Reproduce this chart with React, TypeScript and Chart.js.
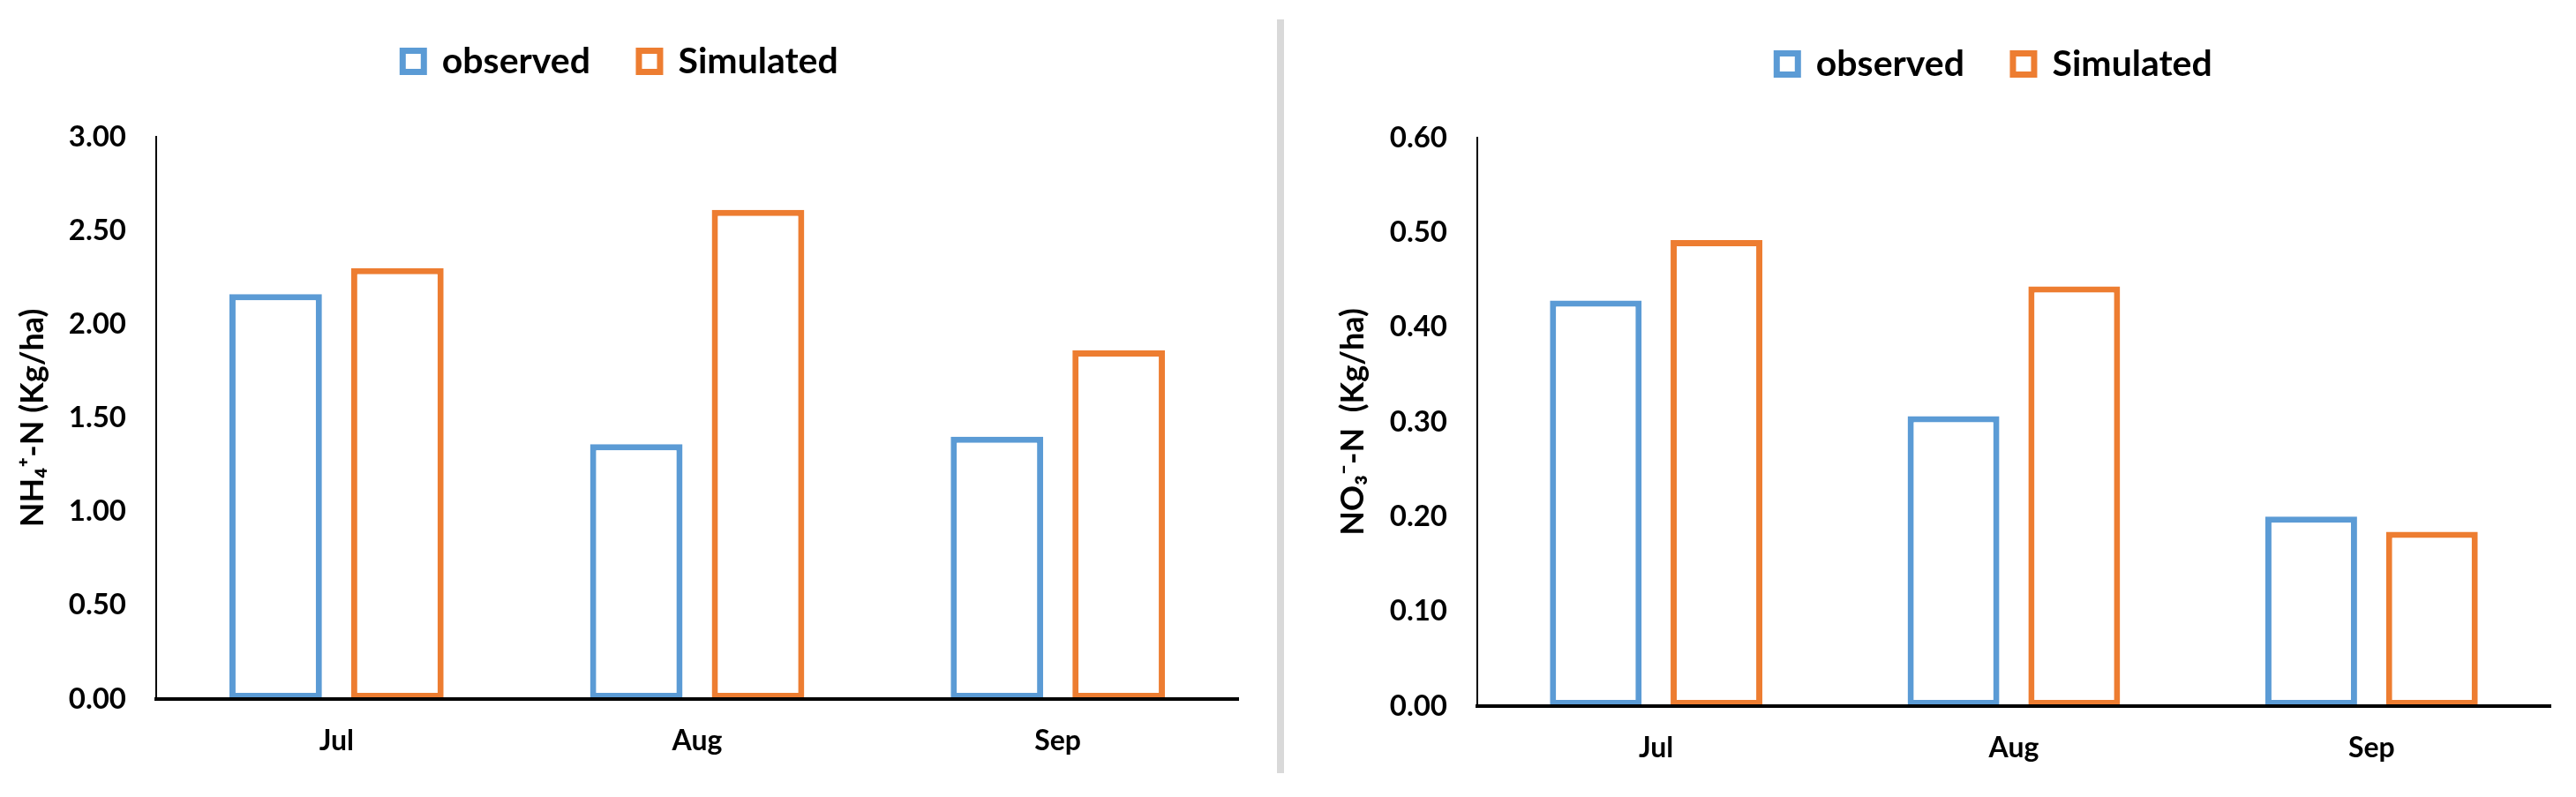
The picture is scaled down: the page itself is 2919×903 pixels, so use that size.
import React, { useEffect, useRef } from 'react';
import { Chart, registerables } from 'chart.js';

Chart.register(...registerables);

// ---- data ----
const categories = ['Jul', 'Aug', 'Sep'];
const seriesLabels = ['observed', 'Simulated'];
const seriesColors = ['#5B9BD5', '#ED7D31'];

const nh4Observed = [2.16, 1.36, 1.4];
const nh4Simulated = [2.3, 2.61, 1.86];
const nh4Max = 3;
const nh4Step = 0.5;
const nh4Title = 'NH₄⁺-N (Kg/ha)';

const no3Observed = [0.428, 0.306, 0.2];
const no3Simulated = [0.492, 0.443, 0.184];
const no3Max = 0.6;
const no3Step = 0.1;
const no3Title = 'NO₃⁻-N  (Kg/ha)';

// ---- styling ----
const FONT = 'Lato, "Open Sans", sans-serif';
const LEGEND_FONT_SIZE = 41;
const LEGEND_PAD = 55;
const CANVAS_H = 903;

const legendPlacer = {
  id: 'legendPlacer',
  afterLayout(chart: any, _args: any, opts: any) {
    const l = chart.legend;
    if (!l || !opts || opts.cx == null) return;
    const w = l.right - l.left;
    const h = l.bottom - l.top;
    l.left = opts.cx - w / 2;
    l.right = l.left + w;
    l.top = opts.cy - LEGEND_PAD - LEGEND_FONT_SIZE / 2;
    l.bottom = l.top + h;
  },
};

type PanelProps = {
  left: number;
  width: number;
  observed: number[];
  simulated: number[];
  yMax: number;
  yStep: number;
  title: string;
  pad: { left: number; right: number; top: number; bottom: number };
  yAxisWidth: number;
  legendCx: number;
  legendCy: number;
};

function Panel(p: PanelProps) {
  const ref = useRef<HTMLCanvasElement>(null);
  useEffect(() => {
    const chart = new Chart(ref.current as HTMLCanvasElement, {
      type: 'bar',
      data: {
        labels: categories,
        datasets: [
          {
            label: seriesLabels[0],
            data: p.observed,
            backgroundColor: '#FFFFFF',
            borderColor: seriesColors[0],
            borderWidth: 7,
            borderSkipped: false,
          },
          {
            label: seriesLabels[1],
            data: p.simulated,
            backgroundColor: '#FFFFFF',
            borderColor: seriesColors[1],
            borderWidth: 7,
            borderSkipped: false,
          },
        ],
      },
      options: {
        responsive: false,
        animation: false,
        layout: { padding: p.pad },
        datasets: { bar: { categoryPercentage: 0.675, barPercentage: 0.76 } },
        plugins: {
          legend: {
            position: 'top',
            labels: {
              boxWidth: 24,
              boxHeight: 24,
              padding: LEGEND_PAD,
              color: '#000',
              font: { family: FONT, size: LEGEND_FONT_SIZE, weight: 'bold' },
            },
          },
          tooltip: { enabled: false },
          legendPlacer: { cx: p.legendCx, cy: p.legendCy },
        } as any,
        scales: {
          x: {
            grid: { display: false, drawTicks: false },
            border: { display: true, color: '#000', width: 4, z: 1 } as any,
            ticks: {
              color: '#000',
              padding: 28,
              font: { family: FONT, size: 32, weight: 'bold' },
            },
            afterFit: (s: any) => {
              s.height = 70;
            },
          },
          y: {
            min: 0,
            max: p.yMax,
            grid: { display: false, drawTicks: false },
            border: { display: true, color: '#000', width: 2 },
            ticks: {
              stepSize: p.yStep,
              color: '#000',
              padding: 34,
              font: { family: FONT, size: 33, weight: 'bold' },
              callback: (v: any) => Number(v).toFixed(2),
            },
            title: {
              display: true,
              text: p.title,
              color: '#000',
              padding: 0,
              font: { family: FONT, size: 36, weight: 'bold' },
            },
            afterFit: (s: any) => {
              s.width = p.yAxisWidth;
            },
          },
        },
      },
      plugins: [legendPlacer as any],
    });
    return () => chart.destroy();
  }, []);
  return (
    <canvas
      ref={ref}
      width={p.width}
      height={CANVAS_H}
      style={{ position: 'absolute', left: p.left, top: 0, width: p.width, height: CANVAS_H }}
    />
  );
}

export default function App() {
  const legendH = LEGEND_FONT_SIZE + LEGEND_PAD + 10;
  return (
    <div
      style={{
        position: 'fixed',
        left: 0,
        top: 0,
        width: 2919,
        height: 903,
        background: '#FFFFFF',
        overflow: 'hidden',
      }}
    >
      <Panel
        left={0}
        width={1440}
        observed={nh4Observed}
        simulated={nh4Simulated}
        yMax={nh4Max}
        yStep={nh4Step}
        title={nh4Title}
        pad={{ left: 16, right: 37, top: 155 - legendH, bottom: CANVAS_H - 792 - 70 }}
        yAxisWidth={161}
        legendCx={703}
        legendCy={69.5}
      />
      <div
        style={{
          position: 'absolute',
          left: 1447,
          top: 22,
          width: 8,
          height: 854,
          background: '#D9D9D9',
        }}
      />
      <Panel
        left={1460}
        width={1459}
        observed={no3Observed}
        simulated={no3Simulated}
        yMax={no3Max}
        yStep={no3Step}
        title={no3Title}
        pad={{ left: 52, right: 29, top: 156 - legendH, bottom: CANVAS_H - 800 - 70 }}
        yAxisWidth={162}
        legendCx={800}
        legendCy={72.5}
      />
    </div>
  );
}
